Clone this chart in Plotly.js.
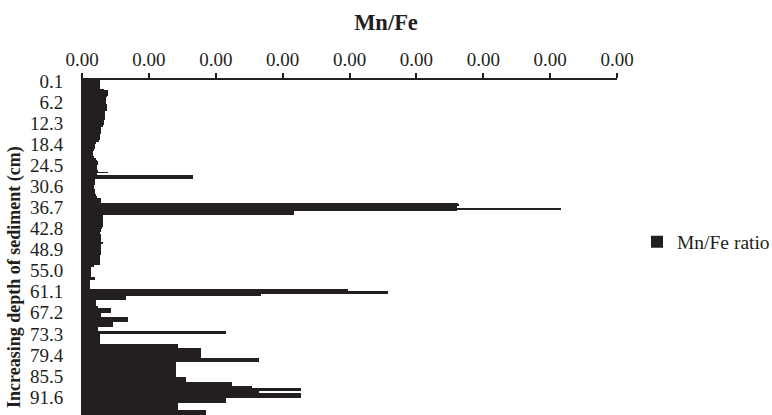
<!DOCTYPE html>
<html>
<head>
<meta charset="utf-8">
<script src="https://cdn.plot.ly/plotly-3.0.1.min.js"></script>
<style>
html,body{margin:0;padding:0;overflow:hidden;background:#fff;}
#chart{width:772px;height:485px;}
</style>
</head>
<body>
<div id="chart"></div>
<script>
// Depth of sediment (cm), sampled every 0.5 cm
var depthCm = [
0.1,0.6,1.1,1.6,2.1,2.6,3.1,3.6,4.1,4.6,
5.1,5.6,6.1,6.6,7.1,7.6,8.1,8.6,9.1,9.6,
10.1,10.6,11.1,11.6,12.1,12.6,13.1,13.6,14.1,14.6,
15.1,15.6,16.1,16.6,17.1,17.6,18.1,18.6,19.1,19.6,
20.1,20.6,21.1,21.6,22.1,22.6,23.1,23.6,24.1,24.6,
25.1,25.6,26.1,26.6,27.1,27.6,28.1,28.6,29.1,29.6,
30.1,30.6,31.1,31.6,32.1,32.6,33.1,33.6,34.1,34.6,
35.1,35.6,36.1,36.6,37.1,37.6,38.1,38.6,39.1,39.6,
40.1,40.6,41.1,41.6,42.1,42.6,43.1,43.6,44.1,44.6,
45.1,45.6,46.1,46.6,47.1,47.6,48.1,48.6,49.1,49.6,
50.1,50.6,51.1,51.6,52.1,52.6,53.1,53.6,54.1,54.6,
55.1,55.6,56.1,56.6,57.1,57.6,58.1,58.6,59.1,59.6,
60.1,60.6,61.1,61.6,62.1,62.6,63.1,63.6,64.1,64.6,
65.1,65.6,66.1,66.6,67.1,67.6,68.1,68.6,69.1,69.6,
70.1,70.6,71.1,71.6,72.1,72.6,73.1,73.6,74.1,74.6,
75.1,75.6,76.1,76.6,77.1,77.6,78.1,78.6,79.1,79.6,
80.1,80.6,81.1,81.6,82.1,82.6,83.1,83.6,84.1,84.6,
85.1,85.6,86.1,86.6,87.1,87.6,88.1,88.6,89.1,89.6,
90.1,90.6,91.1,91.6,92.1,92.6,93.1,93.6,94.1,94.6,
95.1,95.6,96.1,96.6,97.1
];

// Mn/Fe ratio
var mnFeRatio = [
0.000135,0.000135,0.000135,0.000135,0.000135,0.000165,0.000195,0.000195,0.000195,0.000188,
0.00018,0.00018,0.00018,0.00018,0.000188,0.000188,0.000188,0.000188,0.000173,0.000173,
0.000173,0.000173,0.000173,0.000165,0.000165,0.000165,0.000158,0.000143,0.000143,0.000143,
0.000143,0.000135,0.000135,0.000135,0.000135,0.000128,0.000105,0.000098,0.000098,0.000098,
0.00009,0.000083,0.000083,0.000083,0.00009,0.000105,0.000113,0.00012,0.00012,0.000113,
0.000113,0.000113,0.00012,0.000195,0.000113,0.000833,0.000833,0.000098,0.000098,0.000098,
0.000098,0.00009,0.00009,0.000098,0.000098,0.000098,0.000105,0.000113,0.000143,0.000143,
0.000143,0.002813,0.00282,0.002805,0.003585,0.002805,0.001583,0.001583,0.000158,0.000158,
0.000158,0.000158,0.000158,0.000158,0.000158,0.00015,0.000143,0.000143,0.000135,0.000143,
0.000143,0.000143,0.000143,0.000143,0.000158,0.000143,0.000143,0.000143,0.000143,0.000143,
0.000143,0.000135,0.000135,0.000135,0.000135,0.000135,0.000135,0.00009,0.000068,0.000068,
0.000068,0.000068,0.000068,0.000068,0.000098,0.000098,0.00006,0.00006,0.00006,0.00006,
0.00006,0.001988,0.002288,0.002288,0.001335,0.00033,0.00033,0.000105,0.000105,0.000105,
0.000105,0.00012,0.000218,0.000218,0.000218,0.000143,0.000143,0.000345,0.000345,0.000345,
0.000233,0.000233,0.000233,0.00012,0.00012,0.001073,0.001073,0.000135,0.000135,0.000135,
0.000135,0.000135,0.000135,0.00072,0.00072,0.000893,0.000893,0.000893,0.000893,0.000893,
0.000893,0.00132,0.00132,0.000705,0.000705,0.000705,0.000705,0.000705,0.000705,0.000705,
0.000705,0.000705,0.00078,0.00078,0.00078,0.001118,0.001118,0.001268,0.001635,0.001635,
0.00132,0.001635,0.001635,0.001635,0.001073,0.001073,0.001073,0.00072,0.00072,0.00072,
0.00072,0.00093,0.00093,0.00093,0.00093
];

// Depth tick labels shown on the category axis
var depthTickVals = [0.1,6.2,12.3,18.4,24.5,30.6,36.7,42.8,48.9,55.0,61.1,67.2,73.3,79.4,85.5,91.6];
var depthTickText = ["0.1","6.2","12.3","18.4","24.5","30.6","36.7","42.8","48.9","55.0","61.1","67.2","73.3","79.4","85.5","91.6"];

var seriesName = "Mn/Fe ratio";
var chartTitle = "Mn/Fe";
var yTitle = "Increasing depth of sediment (cm)";

var FONT = "'Liberation Serif', 'Times New Roman', Times, serif";
var INK = "#231f20";

var trace = {
  type: "bar",
  orientation: "h",
  x: mnFeRatio,
  y: depthCm,
  name: seriesName,
  marker: {color: INK, line: {width: 0}},
  showlegend: true,
  hoverinfo: "x+y"
};

var layout = {
  width: 772,
  height: 485,
  margin: {l: 82, r: 155, t: 80, b: 13, pad: 0, autoexpand: false},
  paper_bgcolor: "#ffffff",
  plot_bgcolor: "#ffffff",
  bargap: 0,
  font: {family: FONT, size: 19, color: INK},
  title: {
    text: "<b>" + chartTitle + "</b>",
    font: {family: FONT, size: 22.5, color: INK},
    x: 0.5, xref: "container", xanchor: "center",
    y: 1 - 22/485, yref: "container", yanchor: "middle"
  },
  xaxis: {
    side: "top",
    range: [0, 0.004],
    dtick: 0.0005,
    tick0: 0,
    tickformat: ".2f",
    showgrid: false,
    zeroline: false,
    showline: true,
    linecolor: INK,
    linewidth: 2,
    ticks: "outside",
    ticklen: 5,
    tickwidth: 2,
    tickcolor: INK,
    ticklabelstandoff: -1,
    tickfont: {family: FONT, size: 19, color: INK},
    automargin: false,
    fixedrange: true
  },
  yaxis: {
    range: [113.25, -0.15],
    tickmode: "array",
    tickvals: depthTickVals,
    ticktext: depthTickText,
    showgrid: false,
    zeroline: false,
    showline: true,
    linecolor: INK,
    linewidth: 1,
    ticks: "outside",
    ticklen: 14,
    tickcolor: "rgba(0,0,0,0)",
    tickfont: {family: FONT, size: 19, color: INK},
    automargin: false,
    fixedrange: true
  },
  legend: {
    xref: "container",
    yref: "container",
    x: 637 / 772,
    xanchor: "left",
    y: 1 - 242 / 485,
    yanchor: "middle",
    font: {family: FONT, size: 19.5, color: INK},
    bgcolor: "rgba(0,0,0,0)",
    borderwidth: 0
  },
  annotations: [{
    text: "<b>" + yTitle + "</b>",
    textangle: -90,
    xref: "paper", yref: "paper",
    x: (14 - 82) / 535, y: 1 - (277 - 80) / 392,
    xanchor: "center", yanchor: "middle",
    showarrow: false,
    font: {family: FONT, size: 18, color: INK}
  }]
};

Plotly.newPlot("chart", [trace], layout, {displayModeBar: false, staticPlot: true});
</script>
</body>
</html>
